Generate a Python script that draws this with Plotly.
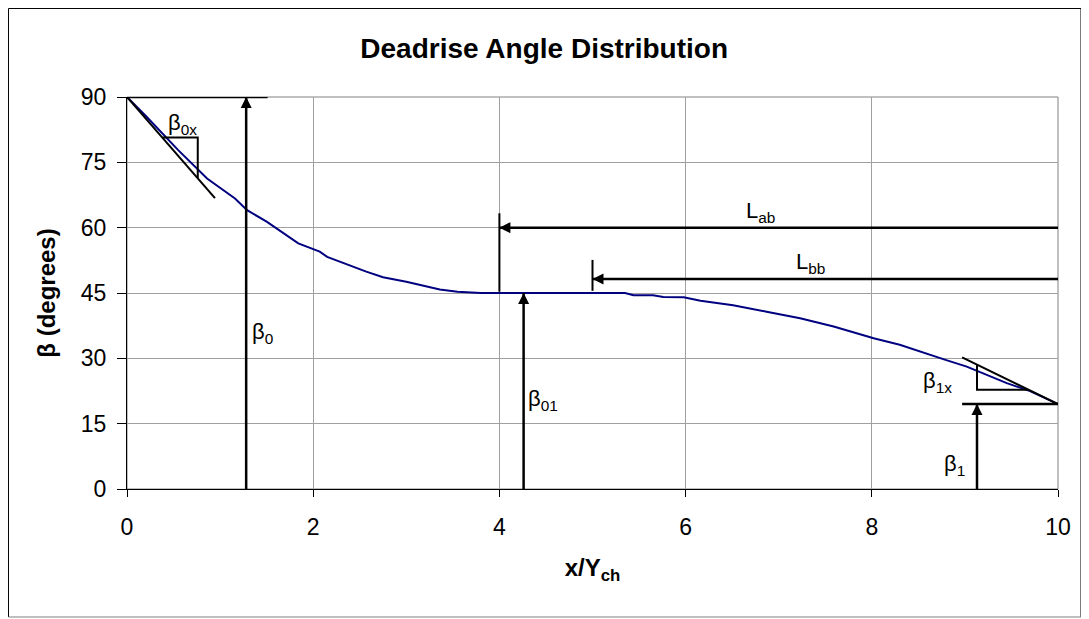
import plotly.graph_objects as go

# deadrise angle curve
x_ratio = [0, 0.2, 0.55, 0.86, 1.16, 1.29, 1.5, 1.84, 2.07, 2.15, 2.57, 2.75, 3.0, 3.36, 3.55,
           3.8, 4.0, 5.35, 5.44, 5.65, 5.76, 5.98, 6.16, 6.51, 6.87, 7.23, 7.59, 7.8, 8.02,
           8.3, 8.52, 8.8, 9.02, 9.45, 9.7, 10]
beta_deg = [90, 85.7, 77.8, 71.3, 66.7, 64.0, 61.4, 56.4, 54.5, 53.3, 49.9, 48.6, 47.6, 45.8, 45.3,
            45.0, 45.0, 45.0, 44.5, 44.5, 44.1, 44.0, 43.2, 42.2, 40.7, 39.2, 37.3, 36.0, 34.6,
            33.1, 31.5, 29.6, 28.1, 24.3, 22.5, 19.5]

x_ticks = [0, 2, 4, 6, 8, 10]
y_ticks = [0, 15, 30, 45, 60, 75, 90]

# key quantities marked on the chart
beta0 = 90
beta01 = 45
beta1 = 19.5
x_beta0 = 1.28
x_beta01 = 4.26
x_beta1 = 9.13
x_ab = 4.0
x_bb = 5.0
y_ab = 60
y_bb = 48.2

# tangent lines and slope triangles
tan0_x = [0, 0.945]
tan0_y = [90, 66.8]
tri0_x = [0.38, 0.76, 0.76]
tri0_y = [80.7, 80.7, 71.4]
tan1_x = [8.97, 10]
tan1_y = [30.2, 19.5]
tri1_x = [9.13, 9.13, 9.68]
tri1_y = [28.5, 22.8, 22.8]

BLACK = "#000000"
LW = 2.5
FONT = "Liberation Sans, Arial, sans-serif"

fig = go.Figure()

fig.add_trace(go.Scatter(x=x_ratio, y=beta_deg, mode="lines",
                         line=dict(color="#000080", width=2), hoverinfo="skip"))


def seg(xs, ys, w=LW):
    fig.add_trace(go.Scatter(x=xs, y=ys, mode="lines", line=dict(color=BLACK, width=w),
                             hoverinfo="skip"))


seg(tan0_x, tan0_y, 2)
seg(tri0_x, tri0_y, 2)
seg(tan1_x, tan1_y, 2)
seg(tri1_x, tri1_y, 2)
seg([0, 1.51], [beta0, beta0])
seg([8.97, 10], [beta1, beta1])
seg([x_ab, x_ab], [45.3, 63.3], 2)
seg([x_bb, x_bb], [45.5, 52.6], 2)

# arrows: shaft as a line, head as an arrow marker whose tip sits on the point
arrows = [
    (x_beta0, beta0, x_beta0, 0, "arrow-up"),
    (x_beta01, beta01, x_beta01, 0, "arrow-up"),
    (x_beta1, beta1, x_beta1, 0, "arrow-up"),
    (x_ab, y_ab, 10, y_ab, "arrow-left"),
    (x_bb, y_bb, 10, y_bb, "arrow-left"),
]
for hx, hy, tx, ty, sym in arrows:
    seg([tx, hx], [ty, hy])
fig.add_trace(go.Scatter(x=[a[0] for a in arrows], y=[a[1] for a in arrows], mode="markers",
                         marker=dict(symbol=[a[4] for a in arrows], size=11, color=BLACK,
                                     line=dict(width=0)),
                         hoverinfo="skip", cliponaxis=False))

labels = [
    (0.6, 83.8, "β<sub>0x</sub>"),
    (1.46, 35.8, "β<sub>0</sub>"),
    (4.47, 20.5, "β<sub>01</sub>"),
    (8.71, 24.5, "β<sub>1x</sub>"),
    (8.89, 5.5, "β<sub>1</sub>"),
    (6.8, 63.6, "L<sub>ab</sub>"),
    (7.34, 51.8, "L<sub>bb</sub>"),
]
for lx, ly, txt in labels:
    fig.add_annotation(x=lx, y=ly, xref="x", yref="y", text=txt, showarrow=False,
                       font=dict(family=FONT, size=22, color=BLACK))

# outer chart border (left/top/right dark, bottom grey), kept just inside the figure
bx0, bx1, by0, by1 = -0.1273, 1.0247, -0.3265, 1.2258
for x0, y0, x1, y1, col in [(bx0, by0, bx0, by1, BLACK), (bx0, by1, bx1, by1, BLACK),
                            (bx1, by1, bx1, by0, BLACK), (bx0, by0, bx1, by0, "#808080")]:
    fig.add_shape(type="line", xref="paper", yref="paper", x0=x0, y0=y0, x1=x1, y1=y1,
                  line=dict(color=col, width=1))

# grey plot-area frame
fig.add_shape(type="rect", xref="paper", yref="paper", x0=0, x1=1, y0=0, y1=1,
              line=dict(color="#808080", width=1), layer="below")

# the page body adds an 8px offset, so the figure is a bit smaller than the window
fig.update_layout(
    width=1081, height=611,
    margin=dict(l=119, r=31, t=89, b=130),
    paper_bgcolor="white", plot_bgcolor="white",
    showlegend=False,
    font=dict(family=FONT, size=22, color=BLACK),
    title=dict(text="<b>Deadrise Angle Distribution</b>", x=0.496, xanchor="center",
               y=0.935, yanchor="middle", font=dict(family=FONT, size=28, color=BLACK)),
    xaxis=dict(range=[0, 10], tickvals=x_ticks, showgrid=True, gridcolor="#a0a0a0", gridwidth=1,
               zeroline=False, showline=True, linecolor=BLACK, linewidth=1, mirror=False,
               ticks="outside", ticklen=7, tickcolor=BLACK, ticklabelstandoff=10,
               tickfont=dict(size=23),
               title=dict(text="<b>x/Y<sub>ch</sub></b>", font=dict(size=24), standoff=20)),
    yaxis=dict(range=[0, 90], tickvals=y_ticks, showgrid=True, gridcolor="#a0a0a0", gridwidth=1,
               zeroline=False, showline=True, linecolor=BLACK, linewidth=1,
               ticks="outside", ticklen=9, tickcolor=BLACK, ticklabelstandoff=6,
               tickfont=dict(size=23),
               title=dict(text="<b>β (degrees)</b>", font=dict(size=24), standoff=18)),
)

fig.write_html("out.html")
